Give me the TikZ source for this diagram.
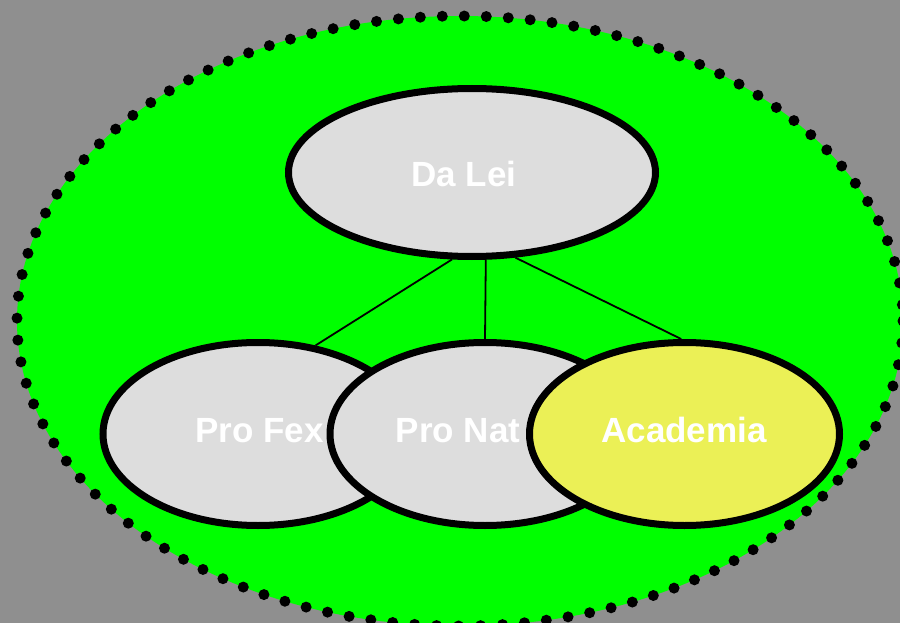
\documentclass[tikz,border=0pt]{standalone}
\usepackage{fontspec}
\setmainfont{Liberation Sans}
\usetikzlibrary{shapes.geometric}
\definecolor{bggray}{HTML}{8F8F8F}
\definecolor{lime}{HTML}{00FF00}
\definecolor{nodegray}{HTML}{DDDDDD}
\definecolor{acyellow}{HTML}{EBF056}
\tikzset{
  orgnode/.style={ellipse, draw=black, line width=7pt, fill=nodegray, inner sep=0pt},
  smallnode/.style={orgnode, minimum width=310pt, minimum height=183pt},
  lbl/.style={text=white, font=\fontsize{35}{40}\selectfont\bfseries, inner sep=0pt, anchor=base},
  conn/.style={draw=black, line width=1.8pt},
}
\begin{document}
\begin{tikzpicture}[x=1pt, y=-1pt]
\useasboundingbox (0,0) rectangle (900,623);
\clip (0,0) rectangle (900,623);
\fill[bggray] (0,0) rectangle (900,623);
\draw[fill=lime, draw=black, line width=11pt, line cap=round, dash pattern=on 0pt off 22pt]
  (460,321) ellipse [x radius=443, y radius=305];
% top node
\node[orgnode, minimum width=367pt, minimum height=168pt] (dalei) at (472,172.5) {};
\node[lbl] (daleit) at (464,186) {Da Lei};
% children
\node[smallnode] (profex) at (258,434) {};
\node[lbl] (profext) at (259.5,442) {Pro Fex};
\node[smallnode] (pronat) at (485,434) {};
\node[lbl, anchor=base west] (pronatt) at (395.5,442) {Pro Nat};
\node[smallnode, fill=acyellow] (academia) at (684.5,434) {};
\node[lbl] (academiat) at (684,442) {Academia};
% connectors
\draw[conn] (dalei.257.8) -- (profex.57.5);
\draw[conn] (dalei.279) -- (pronat.north);
\draw[conn] (dalei.297.1) -- (academia.92.8);
\end{tikzpicture}
\end{document}
